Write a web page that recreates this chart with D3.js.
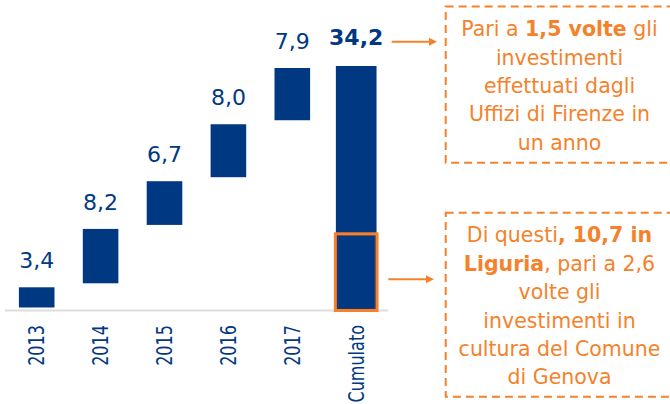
<!DOCTYPE html>
<html lang="it">
<head>
<meta charset="utf-8">
<script src="https://cdn.jsdelivr.net/npm/d3@7/dist/d3.min.js"></script>
<style>
  html, body { margin: 0; padding: 0; background: #ffffff; }
  svg { display: block; }
</style>
</head>
<body>
<svg id="chart" width="670" height="404"></svg>
<script>
// Investimenti annuali e cumulato (milioni di euro)
const categories = ["2013", "2014", "2015", "2016", "2017", "Cumulato"];
const yearlyValues = [3.4, 8.2, 6.7, 8.0, 7.9];
const liguriaValue = 10.7;
const titleText = "Investimenti (mln €),";

const calloutTop = [
  [{ t: "Pari a " }, { t: "1,5 volte", b: true }, { t: " gli" }],
  [{ t: "investimenti" }],
  [{ t: "effettuati dagli" }],
  [{ t: "Uffizi di Firenze in" }],
  [{ t: "un anno" }]
];

const navy = "#003882";
const orange = "#F5822A";
const fontMain = "'DejaVu Sans', Verdana, sans-serif";
const fontAxis = "'DejaVu Sans Condensed', 'DejaVu Sans', sans-serif";

const it = d3.formatLocale({ decimal: ",", thousands: ".", grouping: [3], currency: ["", " €"] });
const fmt = it.format(".1f");

const total = d3.sum(yearlyValues);

const calloutBottom = [
  [{ t: "Di questi" }, { t: ", " + fmt(liguriaValue) + " in", b: true }],
  [{ t: "Liguria", b: true }, { t: ", pari a 2,6" }],
  [{ t: "volte gli" }],
  [{ t: "investimenti in" }],
  [{ t: "cultura del Comune" }],
  [{ t: "di Genova" }]
];

// waterfall segments: each year floats on the running total
let run = 0;
const segments = yearlyValues.map((v, i) => {
  const s = { cat: categories[i], value: v, start: run, end: run + v, total: false };
  run += v;
  return s;
});
segments.push({ cat: categories[5], value: total, start: 0, end: total, total: true });

const svg = d3.select("#chart");

const x = d3.scaleBand()
  .domain(categories)
  .range([4.75, 388.15])
  .paddingInner(0.443)
  .paddingOuter(0.2215);

const y = d3.scaleLinear()
  .domain([0, total])
  .range([309.5, 66]);

const gap = 2;            // breathing room between floating bars
const totalWiden = 1.143; // the cumulative bar is a little wider

// heading above the chart (mostly outside the frame)
svg.append("text")
  .attr("x", 338).attr("y", -3.5)
  .attr("text-anchor", "end")
  .attr("font-family", fontMain)
  .attr("font-weight", "bold")
  .attr("font-size", 20)
  .attr("fill", navy)
  .text(titleText);

// baseline
svg.append("line")
  .attr("x1", x.range()[0]).attr("x2", x.range()[1])
  .attr("y1", 310.5).attr("y2", 310.5)
  .attr("stroke", "#dedede")
  .attr("stroke-width", 2);

// bars
svg.append("g").selectAll("rect")
  .data(segments)
  .join("rect")
  .attr("x", d => {
    const w = d.total ? x.bandwidth() * totalWiden : x.bandwidth();
    return x(d.cat) + x.bandwidth() / 2 - w / 2;
  })
  .attr("width", d => d.total ? x.bandwidth() * totalWiden : x.bandwidth())
  .attr("y", d => d.total ? y(d.end) : y(d.end) + gap)
  .attr("height", d => d.total ? y(d.start) - y(d.end) : y(d.start) - y(d.end) - 2 * gap)
  .attr("fill", navy);

// Liguria share of the cumulative bar
const tw = x.bandwidth() * totalWiden;
const tx = x("Cumulato") + x.bandwidth() / 2 - tw / 2;
svg.append("rect")
  .attr("x", tx + 2.2).attr("width", tw - 4.4)
  .attr("y", y(liguriaValue) + 2.2)
  .attr("height", y(0) - y(liguriaValue) - 2.7)
  .attr("fill", "none")
  .attr("stroke", "#3a3f66")
  .attr("stroke-width", 0.8);
svg.append("rect")
  .attr("x", tx - 0.5).attr("width", tw + 1)
  .attr("y", y(liguriaValue) + 0.5)
  .attr("height", y(0) - y(liguriaValue) + 0.5)
  .attr("fill", "none")
  .attr("stroke", orange)
  .attr("stroke-width", 3);

// value labels
svg.append("g").selectAll("text")
  .data(segments)
  .join("text")
  .attr("x", d => x(d.cat) + x.bandwidth() / 2)
  .attr("y", d => d.total ? y(d.end) - 21.5 : y(d.end) + gap - 19)
  .attr("text-anchor", "middle")
  .attr("font-family", fontMain)
  .attr("font-size", 22)
  .attr("font-weight", d => d.total ? "bold" : "normal")
  .attr("fill", navy)
  .text(d => fmt(d.value));

// category labels, rotated and slightly compressed along the reading direction
svg.append("g").selectAll("text")
  .data(categories)
  .join("text")
  .attr("transform", d => `translate(${x(d) + x.bandwidth() / 2},325) rotate(-90) scale(0.85,1)`)
  .attr("dy", "0.36em")
  .attr("text-anchor", "end")
  .attr("font-family", fontAxis)
  .attr("font-size", 21)
  .attr("fill", navy)
  .text(d => d);

// callouts
function callout(top, height, lines, arrowY, arrowX0, arrowX1) {
  const g = svg.append("g");
  g.append("rect")
    .attr("x", 445.7).attr("y", top)
    .attr("width", 227.6).attr("height", height)
    .attr("fill", "none")
    .attr("stroke", orange)
    .attr("stroke-width", 2)
    .attr("stroke-dasharray", "8 5");
  const firstBaseline = top + 29.7;
  lines.forEach((parts, i) => {
    const t = g.append("text")
      .attr("x", 559.5)
      .attr("y", firstBaseline + i * 28.4)
      .attr("text-anchor", "middle")
      .attr("font-family", fontMain)
      .attr("font-size", 20.5)
      .attr("fill", orange);
    parts.forEach(p => {
      t.append("tspan")
        .attr("font-weight", p.b ? "bold" : "normal")
        .text(p.t);
    });
  });
  g.append("line")
    .attr("x1", arrowX0).attr("x2", arrowX1 - 6)
    .attr("y1", arrowY).attr("y2", arrowY)
    .attr("stroke", orange)
    .attr("stroke-width", 2);
  g.append("path")
    .attr("d", `M${arrowX1},${arrowY} L${arrowX1 - 8},${arrowY - 4} L${arrowX1 - 8},${arrowY + 4} Z`)
    .attr("fill", orange);
}

callout(6.5, 156.2, calloutTop, 41.7, 391.7, 437);
callout(212.7, 184, calloutBottom, 279.3, 388.3, 434);
</script>
</body>
</html>
